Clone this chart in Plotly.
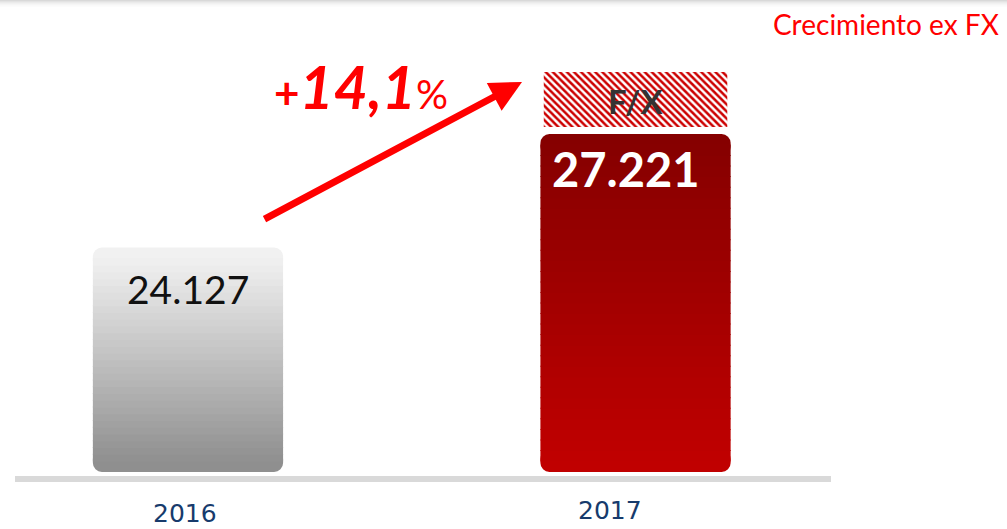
import plotly.graph_objects as go
from plotly.colors import sample_colorscale

# data
years = ["2016", "2017"]
revenue = [24127, 27221]
revenue_labels = ["24.127", "27.221"]
fx_effect = [None, 1500]
growth_num = "14,1"
subtitle = "Crecimiento ex FX"

# page geometry / styling
W, H = 1007, 529
Y_FLOOR = 18007          # the chart is not drawn from zero
Y_RANGE = [16453, 30874]
X_RANGE = [-0.42, 1.83]
UNITS_PER_PX = (Y_RANGE[1] - Y_RANGE[0]) / H
BAR_W = 0.425
N_SEG = 30
RADIUS = 9
FX_GAP = 190

gray_scale = [[0, "rgb(143,143,143)"], [1, "rgb(241,241,241)"]]
red_scale = [[0, "rgb(192,0,0)"], [1, "rgb(134,0,0)"]]


def px(x):
    return x / W


def py(y):
    return 1 - y / H


def bar(y, base, colors, radius=0, width=BAR_W):
    return go.Bar(
        x=list(range(len(years))),
        y=y,
        base=base,
        width=width,
        marker=dict(color=colors, cornerradius=radius, line_width=0),
        hoverinfo="skip",
        showlegend=False,
    )


fig = go.Figure()

# rounded ends: a short cap rounded downwards and one rounded upwards
pad = 11 * UNITS_PER_PX
cap = 2 * pad
bottom_cols = [gray_scale[0][1], red_scale[0][1]]
top_cols = [gray_scale[1][1], red_scale[1][1]]
fig.add_trace(bar([-cap] * 2, [Y_FLOOR + cap] * 2, bottom_cols, RADIUS))
fig.add_trace(bar([cap] * 2, [v - cap for v in revenue], top_cols, RADIUS))

# straight middle part as thin slices so the bar carries a gradient
lo0 = Y_FLOOR + pad
step = [(v - pad - lo0) / N_SEG for v in revenue]
eps = 0.5 * UNITS_PER_PX
for i in range(N_SEG):
    t = (i + 0.5) / N_SEG
    colors = [sample_colorscale(gray_scale, t)[0], sample_colorscale(red_scale, t)[0]]
    base = [lo0 + s * i - eps for s in step]
    fig.add_trace(bar([s + 2 * eps for s in step], base, colors))

# hatched F/X block on top of 2017
fig.add_trace(
    go.Bar(
        x=[0, 1],
        y=fx_effect,
        base=[0, revenue[1] + FX_GAP],
        width=0.41,
        marker=dict(
            color="white",
            line_width=0,
            pattern=dict(shape="\\", fgcolor="#cc0000", bgcolor="white",
                         fgopacity=1, size=5, solidity=0.5),
        ),
        hoverinfo="skip",
        showlegend=False,
    )
)

shapes = [
    dict(type="rect", xref="paper", yref="paper", x0=px(15), x1=px(831),
         y0=py(482), y1=py(476), fillcolor="#d9d9d9", line_width=0, layer="below"),
]
# soft shadow along the top edge
for k, a in enumerate([0.15, 0.11, 0.08, 0.055, 0.035, 0.02, 0.01]):
    shapes.append(dict(type="rect", xref="paper", yref="paper", x0=0, x1=1,
                       y0=py(k + 1), y1=py(k), fillcolor=f"rgba(0,0,0,{a})", line_width=0))

annotations = [
    dict(text=subtitle, xref="paper", yref="paper", x=px(1001), y=py(24),
         xanchor="right", yanchor="middle", showarrow=False,
         font=dict(family="Lato", size=28, color="#ff0000")),
    dict(text=revenue_labels[0], xref="x", yref="paper", x=0, y=py(289),
         xanchor="center", yanchor="middle", showarrow=False,
         font=dict(family="Lato", size=39, color="#111111")),
    dict(text=f"<b>{revenue_labels[1]}</b>", xref="x", yref="paper", x=1, y=py(169),
         xshift=-10, xanchor="center", yanchor="middle", showarrow=False,
         font=dict(family="Lato", size=47, color="white")),
    dict(text="<b>F/X</b>", xref="x", yref="paper", x=1, y=py(101),
         xanchor="center", yanchor="middle", showarrow=False,
         font=dict(family="Lato", size=33, color="#333333")),
    dict(text=years[0], xref="x", yref="paper", x=0, y=py(513), xshift=-3,
         xanchor="center", yanchor="middle", showarrow=False,
         font=dict(family="DejaVu Sans", size=25, color="#173b6c")),
    dict(text=years[1], xref="x", yref="paper", x=1, y=py(510), xshift=-26,
         xanchor="center", yanchor="middle", showarrow=False,
         font=dict(family="DejaVu Sans", size=25, color="#173b6c")),
    # growth arrow
    dict(text="", xref="paper", yref="paper", x=px(522), y=py(82),
         ax=263 - 522, ay=220 - 82, showarrow=True, arrowhead=2, arrowsize=0.9,
         arrowwidth=7, arrowcolor="#ff0000", standoff=0, startstandoff=0),
    dict(text=(f"<b><span style='font-size:44px'>+</span></b>"
               f"<b><i>{growth_num}</i></b>"
               f"<span style='font-size:40px'>%</span>"),
         xref="paper", yref="paper", x=px(272), y=py(86),
         xanchor="left", yanchor="middle", showarrow=False,
         font=dict(family="Lato", size=59, color="#ff0000")),
]

fig.update_layout(
    width=W,
    height=H,
    margin=dict(l=0, r=0, t=0, b=0, pad=0),
    barmode="overlay",
    paper_bgcolor="white",
    plot_bgcolor="white",
    xaxis=dict(type="linear", range=X_RANGE, visible=False, fixedrange=True),
    yaxis=dict(range=Y_RANGE, visible=False, fixedrange=True),
    shapes=shapes,
    annotations=annotations,
    showlegend=False,
)

# drop the default page margin so the figure sits at the window corner
fig.write_html(
    "out.html",
    config={"displayModeBar": False},
    post_script="document.body.style.margin='0';",
)
